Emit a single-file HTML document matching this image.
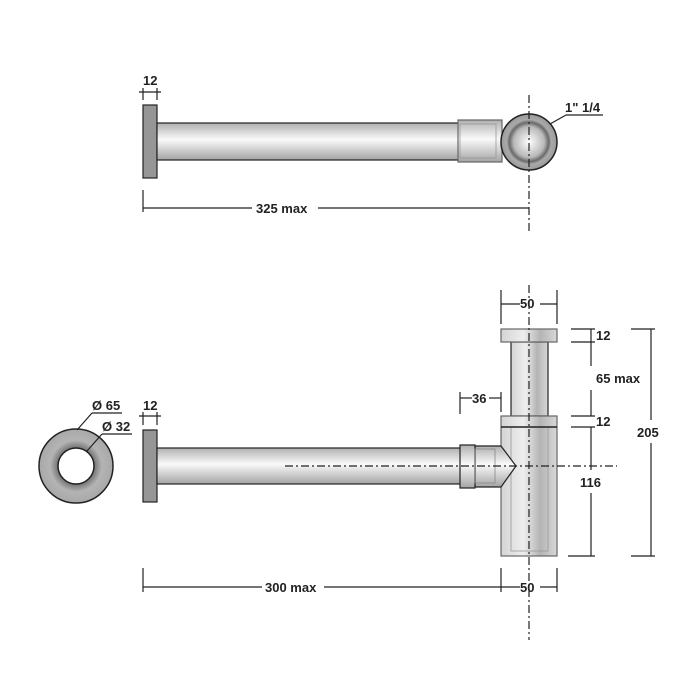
<!DOCTYPE html>
<html><head><meta charset="utf-8"><style>
html,body{margin:0;padding:0;background:#fff;}
svg{display:block}
text{font-family:"Liberation Sans",sans-serif;font-weight:bold;font-size:13px;fill:#222}
</style></head><body>
<svg width="700" height="700" viewBox="0 0 700 700" xmlns="http://www.w3.org/2000/svg">
<defs>
<linearGradient id="hp" x1="0" y1="0" x2="0" y2="1">
<stop offset="0" stop-color="#b0b0b0"/><stop offset="0.45" stop-color="#fafafa"/><stop offset="1" stop-color="#a4a4a4"/>
</linearGradient>
<linearGradient id="vp" x1="0" y1="0" x2="1" y2="0">
<stop offset="0" stop-color="#d4d4d4"/><stop offset="0.4" stop-color="#eeeeee"/><stop offset="0.7" stop-color="#b4b4b4"/><stop offset="1" stop-color="#d8d8d8"/>
</linearGradient>
<radialGradient id="ball" cx="0.5" cy="0.5" r="0.5">
<stop offset="0" stop-color="#fff"/><stop offset="0.55" stop-color="#b8b8b8"/><stop offset="0.7" stop-color="#6a6a6a"/><stop offset="0.8" stop-color="#aaa"/><stop offset="1" stop-color="#999"/>
</radialGradient>
<radialGradient id="ring" cx="0.5" cy="0.5" r="0.5">
<stop offset="0.5" stop-color="#777"/><stop offset="0.7" stop-color="#b4b4b4"/><stop offset="1" stop-color="#a8a8a8"/>
</radialGradient>
</defs>
<g stroke="#222" stroke-width="1.2">
<rect x="143" y="105" width="14" height="73" fill="#969696"/>
<rect x="157" y="123" width="303" height="37" fill="url(#hp)"/>
<rect x="458" y="120" width="44" height="42" fill="url(#hp)" stroke="#666"/>
<rect x="460" y="124" width="36" height="34" fill="none" stroke="#999" stroke-width="0.8"/>
<circle cx="529" cy="142" r="28" fill="url(#ball)" stroke-width="1.5"/>
<line x1="529" y1="95" x2="529" y2="232" stroke-dasharray="8,3,2,3"/>
<line x1="550" y1="124" x2="566" y2="115"/>
<line x1="566" y1="115" x2="603" y2="115"/>
<line x1="143" y1="88" x2="143" y2="100"/><line x1="157" y1="88" x2="157" y2="100"/>
<line x1="139" y1="92" x2="161" y2="92"/>
<line x1="143" y1="190" x2="143" y2="212"/>
<line x1="143" y1="208" x2="252" y2="208"/><line x1="318" y1="208" x2="529" y2="208"/>

<circle cx="76" cy="466" r="37" fill="url(#ring)" stroke-width="1.5"/>
<circle cx="76" cy="466" r="18" fill="#fff" stroke-width="1.5"/>
<line x1="77" y1="430" x2="92" y2="413"/><line x1="92" y1="413" x2="122" y2="413"/>
<line x1="87" y1="451" x2="102" y2="434"/><line x1="102" y1="434" x2="132" y2="434"/>
<rect x="143" y="430" width="14" height="72" fill="#969696"/>
<line x1="143" y1="412" x2="143" y2="425"/><line x1="157" y1="412" x2="157" y2="425"/>
<line x1="139" y1="416" x2="161" y2="416"/>
<rect x="157" y="448" width="305" height="36" fill="url(#hp)"/>
<rect x="511" y="342" width="37" height="74" fill="url(#vp)"/>
<rect x="501" y="416" width="56" height="140" fill="url(#vp)" stroke="#666"/>
<rect x="511" y="427" width="37" height="124" fill="none" stroke="#999" stroke-width="0.8"/>
<line x1="501" y1="427" x2="557" y2="427" stroke-width="1.5"/>
<rect x="501" y="329" width="56" height="13" fill="url(#vp)" stroke="#666"/>
<path d="M475 446 L501 446 L516 466 L501 487 L475 487 Z" fill="url(#hp)"/>
<rect x="460" y="445" width="15" height="43" fill="url(#hp)"/>
<rect x="475" y="449" width="20" height="34" fill="none" stroke="#888" stroke-width="0.8"/>
<line x1="529" y1="285" x2="529" y2="640" stroke-dasharray="8,3,2,3"/>
<line x1="285" y1="466" x2="617" y2="466" stroke-dasharray="8,3,2,3"/>
<line x1="501" y1="290" x2="501" y2="324"/><line x1="557" y1="290" x2="557" y2="324"/>
<line x1="501" y1="304" x2="520" y2="304"/><line x1="540" y1="304" x2="557" y2="304"/>
<line x1="460" y1="392" x2="460" y2="414"/><line x1="501" y1="392" x2="501" y2="412"/>
<line x1="460" y1="398" x2="472" y2="398"/><line x1="489" y1="398" x2="501" y2="398"/>
<line x1="571" y1="329" x2="595" y2="329"/><line x1="571" y1="342" x2="595" y2="342"/>
<line x1="571" y1="416" x2="595" y2="416"/><line x1="571" y1="427" x2="595" y2="427"/>
<line x1="568" y1="556" x2="595" y2="556"/>
<line x1="591" y1="329" x2="591" y2="342"/>
<line x1="591" y1="342" x2="591" y2="366"/><line x1="591" y1="390" x2="591" y2="416"/>
<line x1="591" y1="427" x2="591" y2="470"/><line x1="591" y1="493" x2="591" y2="556"/>
<line x1="631" y1="329" x2="655" y2="329"/><line x1="631" y1="556" x2="655" y2="556"/>
<line x1="651" y1="329" x2="651" y2="420"/><line x1="651" y1="443" x2="651" y2="556"/>
<line x1="143" y1="568" x2="143" y2="592"/>
<line x1="501" y1="568" x2="501" y2="592"/><line x1="557" y1="568" x2="557" y2="592"/>
<line x1="143" y1="587" x2="262" y2="587"/><line x1="324" y1="587" x2="520" y2="587"/>
<line x1="540" y1="587" x2="557" y2="587"/>
</g>
<text x="143" y="85">12</text>
<text x="565" y="112">1" 1/4</text>
<text x="256" y="213">325 max</text>
<text x="92" y="410">Ø 65</text>
<text x="102" y="431">Ø 32</text>
<text x="143" y="410">12</text>
<text x="520" y="308">50</text>
<text x="472" y="403">36</text>
<text x="596" y="340">12</text>
<text x="596" y="383">65 max</text>
<text x="596" y="426">12</text>
<text x="580" y="487">116</text>
<text x="637" y="437">205</text>
<text x="265" y="592">300 max</text>
<text x="520" y="592">50</text>
</svg>
</body></html>
